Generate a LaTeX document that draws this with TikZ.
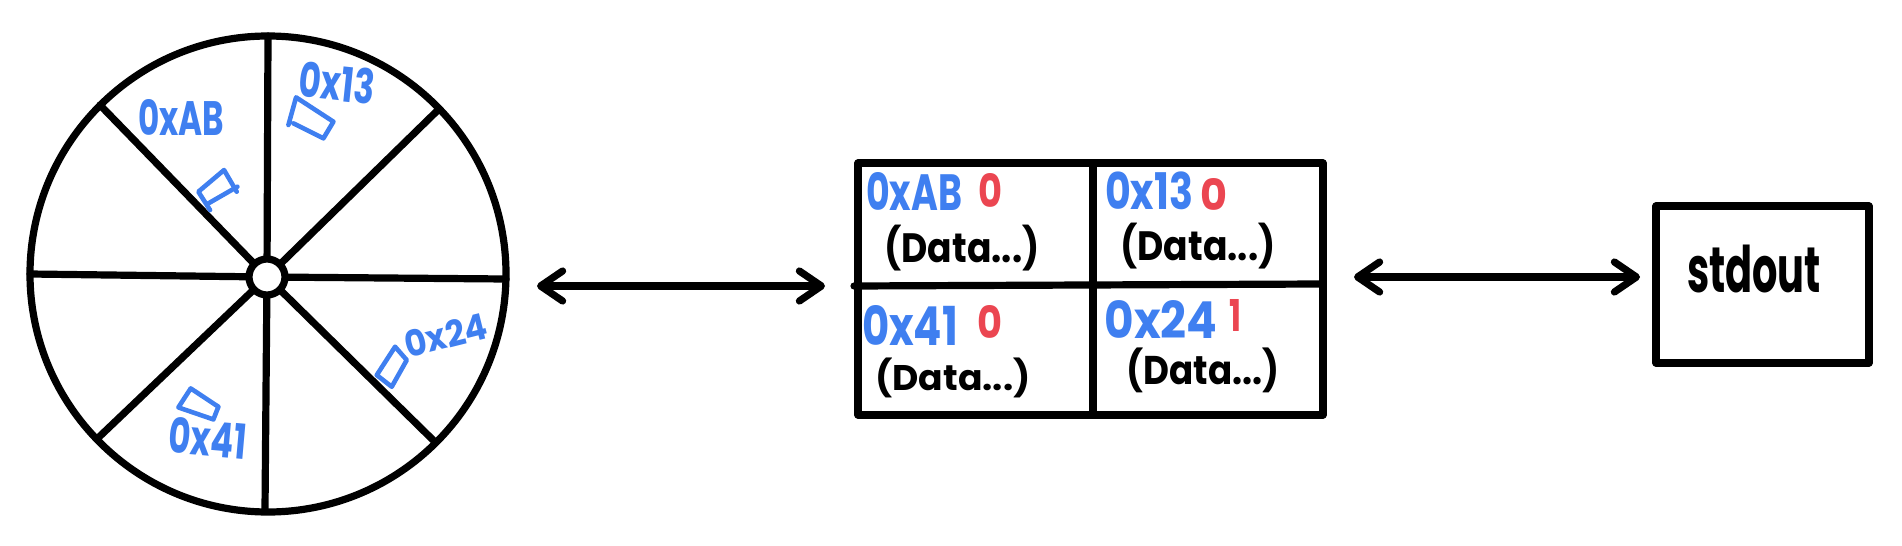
\documentclass[tikz,border=0pt]{standalone}
\usepackage{fontspec}
\setmainfont{Poppins}
\usetikzlibrary{arrows.meta}
\definecolor{inkblue}{HTML}{3F7FF0}
\definecolor{inkred}{HTML}{EB4651}
\newcommand{\hw}[3]{\resizebox*{#1\dimexpr0.5pt\relax}{#2\dimexpr0.5pt\relax}{#3}}
\tikzset{
  ink/.style={line width=3.6pt,line cap=round,line join=round,black},
  twoway/.style={ink,{Straight Barb[length=11pt,width=15pt,line width=3.6pt,round]}-{Straight Barb[length=11pt,width=15pt,line width=3.6pt,round]}},
  lab/.style={inner sep=0pt,outer sep=0pt,font=\bfseries},
  hex/.style={lab,text=inkblue},
  flag/.style={lab,text=inkred},
  data/.style={lab,text=black},
  mark box/.style={line width=2.3pt,inkblue,line cap=round,line join=round},
}
\begin{document}
\begin{tikzpicture}[x=0.5pt,y=-0.5pt]
\useasboundingbox (0,0) rectangle (1902,546);
% wheel
\coordinate (rU) at (268,36);
\coordinate (rUL) at (100,105);
\coordinate (rUR) at (438,110);
\coordinate (rL) at (30,274);
\coordinate (rR) at (506,279);
\coordinate (rDL) at (98,438);
\coordinate (rD) at (265,510);
\coordinate (rDR) at (433,440);
\node[lab,circle,draw,ink,minimum size=238pt] (wheel) at (268,274) {};
\coordinate (hubc) at (267,277);
\foreach \e in {rU,rUL,rUR,rL,rR,rDL,rD,rDR} \draw[ink] (hubc) -- (\e);
\node[circle,draw,ink,fill=white,minimum size=18pt,inner sep=0pt] (hub) at (267,277) {};
% wheel marks
\begin{scope}[x=0.1667pt,y=-0.1667pt]
\draw[mark box] (630,630) -- (595,575) -- (672,510) -- (710,575);
\draw[mark box] (625,610) -- (712,560);
\draw[mark box] (865,375) -- (888,292) -- (1000,365) -- (970,415) -- (880,370);
\draw[mark box] (1130,1125) -- (1185,1040) -- (1220,1080) -- (1175,1160) -- cycle;
\draw[mark box] (655,1220) -- (572,1165) -- (535,1222) -- (640,1258) -- (655,1220);
\end{scope}
\node[hex] (wAB) at (181,117) {\hw{86}{36}{0xAB}};
\node[hex,rotate=-6] (w13) at (337,83) {\hw{76}{36}{0x13}};
\node[hex,rotate=14] (w24) at (446,335) {\hw{84}{27}{0x24}};
\node[hex,rotate=-5] (w41) at (208,438) {\hw{78}{36}{0x41}};
% table
\coordinate (tTL) at (858,163);
\coordinate (tTM) at (1093,163);
\coordinate (tTR) at (1323,163);
\coordinate (tML) at (854,286);
\coordinate (tMR) at (1320,284);
\coordinate (tBL) at (858,415);
\coordinate (tBM) at (1093,415);
\coordinate (tBR) at (1323,415);
\draw[ink] (tTL) -- (tTR) -- (tBR) -- (tBL) -- cycle;
\draw[ink] (tTM) -- (tBM);
\draw[ink] (tML) -- (tMR);
\node[hex] (c1h) at (914,191) {\hw{96}{38}{0xAB}};
\node[flag] (c1f) at (990,190) {\hw{24}{34}{0}};
\node[data] (c1d) at (962,248) {\hw{155}{46}{(Data...)}};
\node[hex] (c2h) at (1149,191) {\hw{88}{38}{0x13}};
\node[flag] (c2f) at (1214,194) {\hw{27}{32}{0}};
\node[data] (c2d) at (1198,246) {\hw{155}{46}{(Data...)}};
\node[hex] (c3h) at (910,325) {\hw{96}{40}{0x41}};
\node[flag] (c3f) at (990,322) {\hw{25}{33}{0}};
\node[data] (c3d) at (953,378) {\hw{155}{40}{(Data...)}};
\node[hex] (c4h) at (1161,319) {\hw{113}{38}{0x24}};
\node[flag] (c4f) at (1235,315) {\hw{12}{32}{1}};
\node[data] (c4d) at (1203,370) {\hw{153}{45}{(Data...)}};
% stdout box
\node[draw,ink,inner sep=0pt,minimum width=106.5pt,minimum height=78.5pt] (outbox) at (1762.5,284.5) {};
\node[data] (outtext) at (1754,269) {\hw{134}{48}{stdout}};
% arrows
\coordinate (a1) at (537,286);
\coordinate (a2) at (825,286);
\coordinate (b1) at (1354,277);
\coordinate (b2) at (1640,277);
\draw[twoway] (a1) -- (a2);
\draw[twoway] (b1) -- (b2);
\end{tikzpicture}
\end{document}
